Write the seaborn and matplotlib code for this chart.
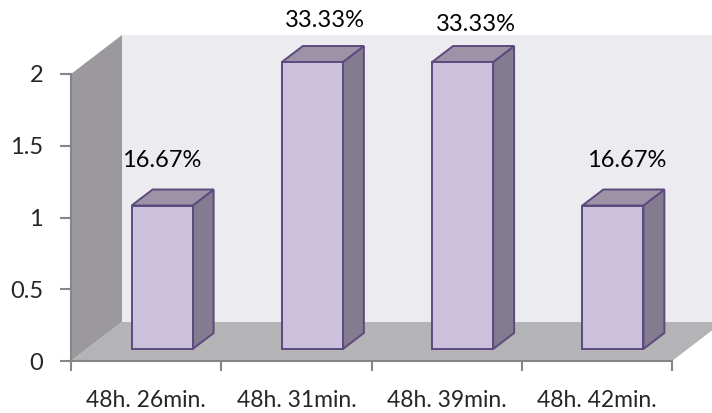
import seaborn as sns
import matplotlib.pyplot as plt
from matplotlib.patches import Polygon

# data
labels = ['48h. 26min.', '48h. 31min.', '48h. 39min.', '48h. 42min.']
counts = [1, 2, 2, 1]
percent_labels = ['16.67%', '33.33%', '33.33%', '16.67%']

# colours
wall_back = '#ecebf0'
wall_left = '#9b999d'
floor_col = '#b4b3b6'
axis_col = '#868686'
bar_front = '#cbc1dc'
bar_side = '#837b8f'
bar_top = '#9d93a6'
bar_edge = '#5c4a7f'

sns.set_style('white')
plt.rcParams['font.family'] = ['Lato', 'DejaVu Sans']

fig = plt.figure(figsize=(7.12, 4.13), dpi=100)
W, H = 712, 413
ax = fig.add_axes([71 / W, (H - 361) / H, (672 - 71) / W, (361 - 74) / H])
ax.set_facecolor('none')

sns.barplot(x=labels, y=counts, ax=ax, width=0.406, color=bar_front,
            saturation=1, edgecolor=bar_edge, linewidth=1.4, zorder=5)
ax.set_xlim(-0.5, 3.5)
ax.set_ylim(0, 2)

# pixel -> data scale
px_x = 4 / (672 - 71)
px_y = 2 / (361 - 74)
Dx, Dy = 51 * px_x, 39 * px_y      # full depth of the box
bx, by = 16 * px_x, 12 * px_y      # bar depth position
sx, sy = 21 * px_x, 16 * px_y      # bar thickness

# walls and floor
back = Polygon([(-0.5 + Dx, Dy), (3.5 + Dx, Dy), (3.5 + Dx, 2 + Dy), (-0.5 + Dx, 2 + Dy)],
               closed=True, fc=wall_back, ec='none', clip_on=False, zorder=0)
left = Polygon([(-0.5, 0), (-0.5, 2), (-0.5 + Dx, 2 + Dy), (-0.5 + Dx, Dy)],
               closed=True, fc=wall_left, ec='none', clip_on=False, zorder=1)
floor = Polygon([(-0.5, 0), (3.5, 0), (3.5 + Dx, Dy), (-0.5 + Dx, Dy)],
                closed=True, fc=floor_col, ec='none', clip_on=False, zorder=1)
for p in (back, left, floor):
    ax.add_patch(p)

offsets = [(0, 45), (13, 41), (13, 37), (14, 45)]
for patch, txt, (ox, oy) in zip(ax.patches, percent_labels, offsets):
    patch.set_x(patch.get_x() + bx)
    patch.set_y(by)
    x0 = patch.get_x()
    x1 = x0 + patch.get_width()
    y0 = by
    y1 = by + patch.get_height()
    side = Polygon([(x1, y0), (x1, y1), (x1 + sx, y1 + sy), (x1 + sx, y0 + sy)],
                   closed=True, fc=bar_side, ec=bar_edge, lw=1.4, zorder=4, clip_on=False)
    top = Polygon([(x0, y1), (x1, y1), (x1 + sx, y1 + sy), (x0 + sx, y1 + sy)],
                  closed=True, fc=bar_top, ec=bar_edge, lw=1.4, zorder=4, clip_on=False)
    ax.add_patch(side)
    ax.add_patch(top)
    patch.set_clip_on(False)
    ax.annotate(txt, xy=((x0 + x1) / 2, y1), xytext=(ox * 0.72, oy * 0.72),
                textcoords='offset points', ha='center', va='center',
                fontsize=17, color='black', annotation_clip=False)

# axes styling
sns.despine(ax=ax, top=True, right=True)
for s in ('left', 'bottom'):
    ax.spines[s].set_color(axis_col)
    ax.spines[s].set_linewidth(1.5)
    ax.spines[s].set_zorder(3)

ax.set_yticks([0, 0.5, 1, 1.5, 2])
ax.set_yticklabels(['0', '0.5', '1', '1.5', '2'])
ax.tick_params(axis='y', length=8, width=1.5, color=axis_col, labelsize=17, pad=12, left=True)
ax.set_xticks(range(len(labels)))
ax.set_xticklabels(labels)
ax.set_xticks([-0.5, 0.5, 1.5, 2.5, 3.5], minor=True)
ax.tick_params(axis='x', which='major', length=0, labelsize=16.5, pad=21)
ax.tick_params(axis='x', which='minor', length=7, width=1.5, color=axis_col, bottom=True)
ax.set_xlabel('')
ax.set_ylabel('')

fig.savefig('out.png', dpi=100, facecolor='white')
